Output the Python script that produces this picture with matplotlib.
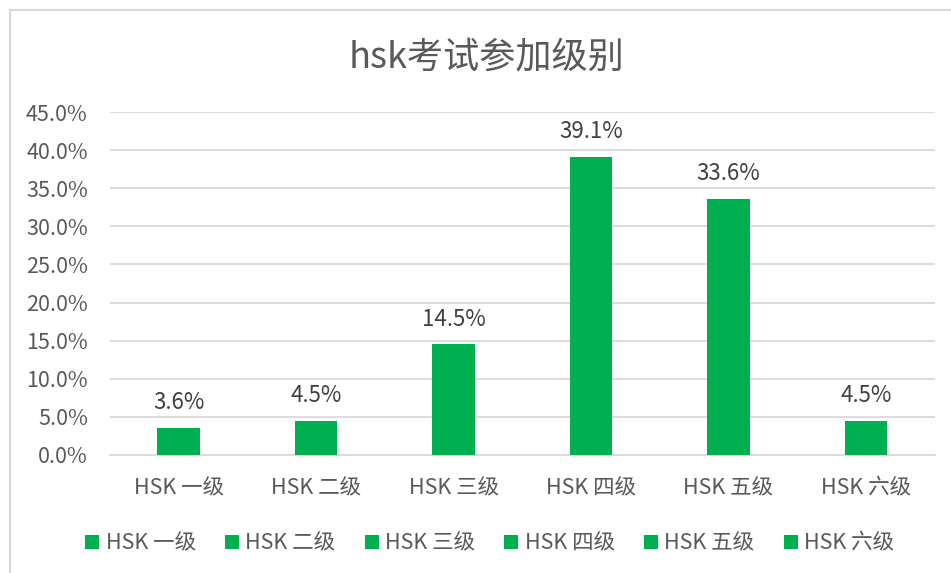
import numpy as np
import matplotlib
matplotlib.use('Agg')
import matplotlib.pyplot as plt
from matplotlib.patches import Rectangle
from matplotlib.ticker import PercentFormatter

plt.rcParams['font.family'] = ['Noto Sans CJK SC', 'DejaVu Sans']

# data
levels = ['HSK 一级', 'HSK 二级', 'HSK 三级', 'HSK 四级', 'HSK 五级', 'HSK 六级']
shares = [0.036, 0.045, 0.145, 0.391, 0.336, 0.045]
y_ticks = [0.0, 0.05, 0.10, 0.15, 0.20, 0.25, 0.30, 0.35, 0.40, 0.45]

green = '#00b050'
grid_c = '#d9d9d9'
txt_c = '#595959'

fig = plt.figure(figsize=(9.51, 5.73), dpi=100)
ax = fig.add_axes([0.1157, 0.206, 0.867, 0.5985])

x = np.arange(len(levels))
bars = []
for i in range(len(levels)):
    b = ax.bar(x[i], shares[i], width=0.31, color=green, label=levels[i], zorder=3)
    bars.append(b)
    ax.text(x[i], shares[i] + 0.018, '%.1f%%' % (shares[i] * 100),
            ha='center', va='bottom', fontsize=16, color='#404040')

ax.set_xlim(-0.5, len(levels) - 0.5)
ax.set_ylim(0, 0.45)
ax.set_yticks(y_ticks)
ax.yaxis.set_major_formatter(PercentFormatter(1.0, decimals=1))
ax.set_xticks(x)
ax.set_xticklabels(levels)
ax.grid(axis='y', color=grid_c, linewidth=1.3, zorder=0)
ax.tick_params(axis='both', length=0, labelsize=15.5, labelcolor=txt_c)
ax.tick_params(axis='x', pad=16)
ax.tick_params(axis='y', pad=16)
for s in ['top', 'right', 'left']:
    ax.spines[s].set_visible(False)
ax.spines['bottom'].set_color(grid_c)
ax.spines['bottom'].set_linewidth(1.3)

fig.text(0.512, 0.90, 'hsk考试参加级别', ha='center', va='center', fontsize=26, color=txt_c)

fig.legend(handles=[b[0] for b in bars], labels=levels, loc='center',
           bbox_to_anchor=(0.515, 0.051), ncol=6, frameon=False, fontsize=15.5,
           handlelength=0.65, handleheight=0.65, handletextpad=0.3, columnspacing=1.35,
           labelcolor=txt_c)

fig.patches.append(Rectangle((10 / 951, -0.1), 1.2, 1.1 - 10 / 573, transform=fig.transFigure,
                             fill=False, edgecolor=grid_c, linewidth=1.5, clip_on=False))

fig.savefig('out.png', dpi=100)
